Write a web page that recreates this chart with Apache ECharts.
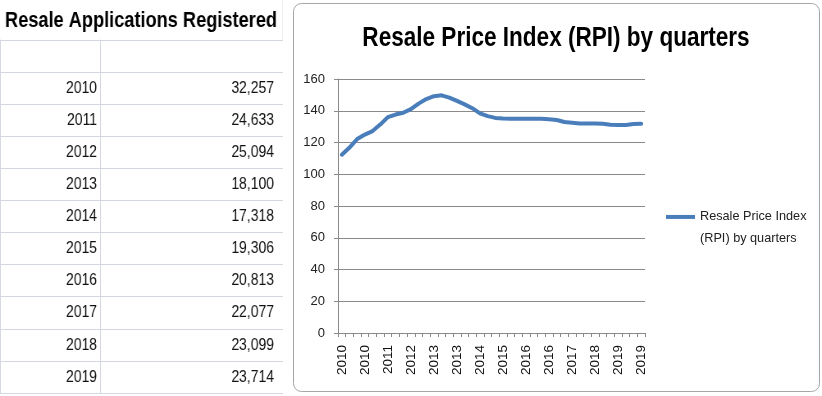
<!DOCTYPE html>
<html>
<head>
<meta charset="utf-8">
<script src="https://cdn.jsdelivr.net/npm/echarts@6/dist/echarts.min.js"></script>
<style>
html,body{margin:0;padding:0;background:#fff;}
#wrap{position:relative;width:822px;height:396px;overflow:hidden;}
#table{position:absolute;left:0;top:0;width:345.12px;height:396px;transform:scaleX(0.82);transform-origin:0 0;}
#main{position:absolute;left:0;top:0;width:822px;height:396px;}
</style>
</head>
<body>
<div id="wrap">
  <div id="table"></div>
  <div id="main"></div>
</div>
<script>
// ---- data ----
const tableTitle = 'Resale Applications Registered';
const years = ['2010','2011','2012','2013','2014','2015','2016','2017','2018','2019'];
const applications = [32257, 24633, 25094, 18100, 17318, 19306, 20813, 22077, 23099, 23714];

const chartTitle = 'Resale Price Index (RPI) by quarters';
const seriesName = 'Resale Price Index (RPI) by quarters';
const quarterLabels = [
  '2010','2010','2010','2010','2011','2011','2011','2011',
  '2012','2012','2012','2012','2013','2013','2013','2013',
  '2014','2014','2014','2014','2015','2015','2015','2015',
  '2016','2016','2016','2016','2017','2017','2017','2017',
  '2018','2018','2018','2018','2019','2019','2019','2019'
];
const rpi = [
  112.3, 116.8, 122.2, 125.0, 127.2, 131.3, 136.0, 137.6,
  138.7, 141.0, 144.5, 147.4, 149.2, 149.7, 148.3, 146.2,
  144.0, 141.6, 138.3, 136.6, 135.5, 135.1, 135.0, 135.0,
  135.0, 135.0, 134.9, 134.6, 134.2, 132.9, 132.5, 132.0,
  132.0, 132.0, 131.8, 131.2, 131.0, 131.0, 131.6, 131.8
];
const yMin = 0, yMax = 160, yStep = 20;

// ---- styles ----
const S = 0.82; // horizontal condensing of the spreadsheet text
const SANS = '"Liberation Sans", Arial, sans-serif';
const cellLine = '#d3d8e0';
const axisGray = '#8a8a8a';
const lineBlue = '#4a7ebb';
const fmt = n => n.toLocaleString('en-US');

// ---- spreadsheet table (drawn condensed) ----
const table = echarts.init(document.getElementById('table'), null, {renderer: 'canvas'});
table.setOption({
  animation: false,
  grid: [
    {left: 0, top: 40, width: 100 / S, height: 353, outerBoundsMode: 'none'},
    {left: 100 / S, top: 40, width: 183 / S, height: 353, outerBoundsMode: 'none'}
  ],
  xAxis: [
    {gridIndex: 0, type: 'value', show: false},
    {gridIndex: 1, type: 'value', show: false}
  ],
  yAxis: [
    {
      gridIndex: 0, type: 'category', data: [''].concat(years), inverse: true,
      position: 'right', boundaryGap: true,
      axisLine: {show: true, lineStyle: {color: cellLine}},
      axisTick: {show: false},
      splitLine: {show: true, lineStyle: {color: cellLine}},
      axisLabel: {inside: true, interval: 0, margin: 3 / S, padding: [4, 0, 0, 0],
                  fontSize: 17, color: '#111', fontFamily: SANS}
    },
    {
      gridIndex: 1, type: 'category', data: [''].concat(applications.map(fmt)), inverse: true,
      position: 'right', boundaryGap: true,
      axisLine: {show: true, lineStyle: {color: cellLine}},
      axisTick: {show: false},
      splitLine: {show: true, lineStyle: {color: cellLine}},
      axisLabel: {inside: true, interval: 0, margin: 9 / S, padding: [4, 0, 0, 0],
                  fontSize: 17, color: '#111', fontFamily: SANS}
    }
  ],
  series: [],
  graphic: [
    {type: 'line', silent: true,
     shape: {x1: 283 / S, y1: 0, x2: 283 / S, y2: 40},
     style: {stroke: cellLine, lineWidth: 1}},
    {type: 'text', silent: true, x: 141 / S, y: 21,
     style: {text: tableTitle, fontSize: 22.2, fontWeight: 'bold', fontFamily: SANS,
             fill: '#000', align: 'center', verticalAlign: 'middle'}}
  ]
});

// ---- RPI line chart ----
const chart = echarts.init(document.getElementById('main'), null, {renderer: 'canvas'});
chart.setOption({
  animation: false,
  grid: [{left: 338, top: 79, width: 307, height: 254, outerBoundsMode: 'none'}],
  xAxis: [{
    type: 'category', data: quarterLabels, boundaryGap: true,
    axisLine: {show: true, lineStyle: {color: axisGray, width: 1}},
    axisTick: {show: true, interval: 0, length: 4, lineStyle: {color: axisGray}},
    axisLabel: {interval: 2, rotate: 90, margin: 12, fontSize: 13.5, color: '#111', fontFamily: SANS},
    splitLine: {show: false}
  }],
  yAxis: [{
    type: 'value', min: yMin, max: yMax, interval: yStep,
    axisLine: {show: true, lineStyle: {color: axisGray, width: 1}},
    axisTick: {show: true, length: 4, lineStyle: {color: axisGray}},
    splitLine: {show: true, lineStyle: {color: axisGray, width: 1}},
    axisLabel: {margin: 13, fontSize: 13, color: '#222', fontFamily: SANS}
  }],
  legend: {
    data: [seriesName], left: 666, top: 185, padding: 0,
    icon: 'rect', itemWidth: 29, itemHeight: 4, selectedMode: false,
    itemStyle: {borderWidth: 0},
    formatter: n => '\n' + n.replace(' (RPI)', '\n(RPI)'),
    textStyle: {fontSize: 12.7, lineHeight: 21.3, color: '#222', fontFamily: SANS}
  },
  series: [{
    type: 'line', name: seriesName,
    data: rpi, symbol: 'none', smooth: false,
    lineStyle: {width: 4, color: lineBlue, cap: 'round', join: 'round'},
    itemStyle: {color: lineBlue}
  }],
  graphic: [
    {type: 'rect', silent: true, z: -10,
     shape: {x: 293.5, y: 3.5, width: 526, height: 388, r: 8},
     style: {fill: 'none', stroke: '#a6a6a6', lineWidth: 1}},
    {type: 'text', silent: true, x: 556, y: 38, scaleX: S,
     style: {text: chartTitle, fontSize: 27.5, fontWeight: 'bold', fontFamily: SANS,
             fill: '#000', align: 'center', verticalAlign: 'middle'}}
  ]
});
</script>
</body>
</html>
